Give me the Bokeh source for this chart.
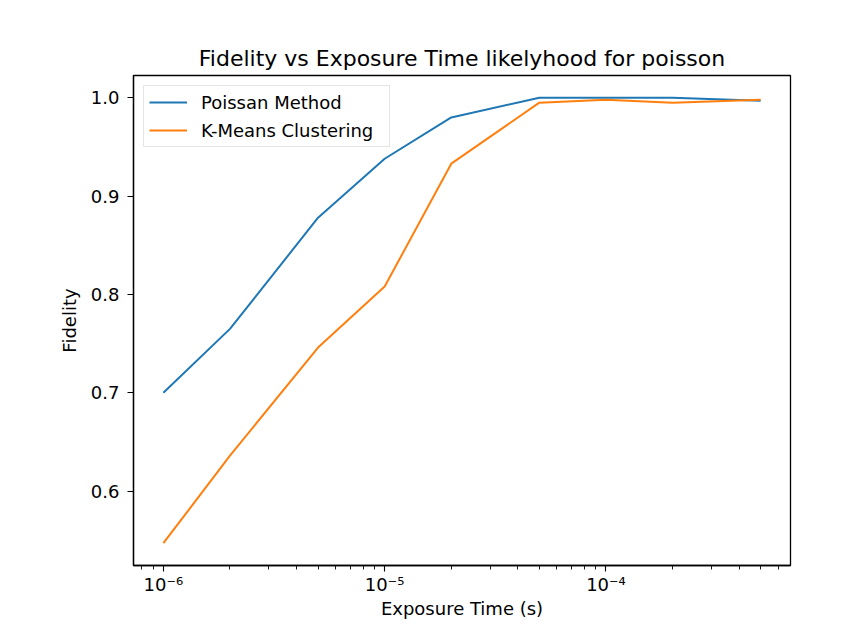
import numpy as np
from bokeh.plotting import figure
from bokeh.models import Range1d, FixedTicker, Legend, LegendItem
from bokeh.embed import file_html
from bokeh.resources import INLINE

exposure = [1e-6, 2e-6, 5e-6, 1e-5, 2e-5, 5e-5, 1e-4, 2e-4, 5e-4]
poissan = [0.700, 0.765, 0.878, 0.938, 0.980, 1.000, 1.000, 1.000, 0.997]
kmeans = [0.547, 0.636, 0.746, 0.808, 0.933, 0.995, 0.998, 0.995, 0.998]
y_ticks = [0.6, 0.7, 0.8, 0.9, 1.0]
x_major = [1e-6, 1e-5, 1e-4]
x_labels = ["10\u207b\u2076", "10\u207b\u2075", "10\u207b\u2074"]

FONT = "DejaVu Sans"

# matplotlib-like 5% margins
lx = np.log10(exposure)
xm = 0.05 * (lx.max() - lx.min())
allv = np.array(poissan + kmeans)
ym = 0.05 * (allv.max() - allv.min())

p = figure(width=851, height=621, output_backend="svg", toolbar_location=None,
           x_axis_type="log",
           x_range=Range1d(10 ** (lx.min() - xm), 10 ** (lx.max() + xm)),
           y_range=Range1d(allv.min() - ym, allv.max() + ym),
           min_border_left=133, min_border_right=61, min_border_top=75, min_border_bottom=52,
           title="Fidelity vs Exposure Time likelyhood for poisson")

p.title.text_font = FONT
p.title.text_font_size = "22px"
p.title.text_font_style = "normal"
p.title.align = "center"
p.title.text_color = "#000000"

p.grid.visible = False
p.outline_line_color = "#000000"
p.outline_line_width = 1.3
p.background_fill_color = "white"
p.border_fill_color = "white"

minor = []
for d in [-7, -6, -5, -4]:
    for m in range(2, 10):
        minor.append(m * 10.0 ** d)

p.xaxis.ticker = FixedTicker(ticks=x_major, minor_ticks=minor)
p.xaxis.major_label_overrides = {t: l for t, l in zip(x_major, x_labels)}
p.yaxis.ticker = FixedTicker(ticks=y_ticks, minor_ticks=[])
p.yaxis.major_label_overrides = {t: f"{t:.1f}" for t in y_ticks}

for ax in (p.xaxis, p.yaxis):
    ax.axis_line_color = "#000000"
    ax.axis_line_width = 1.3
    ax.major_tick_line_color = "#000000"
    ax.minor_tick_line_color = "#000000"
    ax.major_tick_line_width = 1.1
    ax.minor_tick_line_width = 0.9
    ax.major_tick_in = 0
    ax.major_tick_out = 6
    ax.minor_tick_in = 0
    ax.minor_tick_out = 4
    ax.major_label_text_font = FONT
    ax.major_label_text_font_size = "18px"
    ax.major_label_text_color = "#000000"
    ax.axis_label_text_font = FONT
    ax.axis_label_text_font_size = "18px"
    ax.axis_label_text_font_style = "normal"
    ax.axis_label_text_color = "#000000"

p.xaxis.axis_label = "Exposure Time (s)"
p.yaxis.axis_label = "Fidelity"
p.xaxis.major_label_standoff = 2
p.xaxis.axis_label_standoff = 0
p.yaxis.major_label_standoff = 8
p.yaxis.axis_label_standoff = 8

r1 = p.line(exposure, poissan, line_color="#1f77b4", line_width=2)
r2 = p.line(exposure, kmeans, line_color="#ff7f0e", line_width=2)

legend = Legend(items=[LegendItem(label="Poissan Method", renderers=[r1]),
                       LegendItem(label="K-Means Clustering", renderers=[r2])],
                location="top_left", margin=10, padding=5, spacing=6,
                glyph_width=38, glyph_height=22, label_height=22, label_width=183,
                label_standoff=14,
                label_text_font=FONT, label_text_font_size="18px", label_text_color="#000000",
                border_line_color="#cccccc", border_line_width=1.2,
                background_fill_color="white", background_fill_alpha=0.8)
p.add_layout(legend)

open("out.html", "w").write(file_html(p, INLINE))
